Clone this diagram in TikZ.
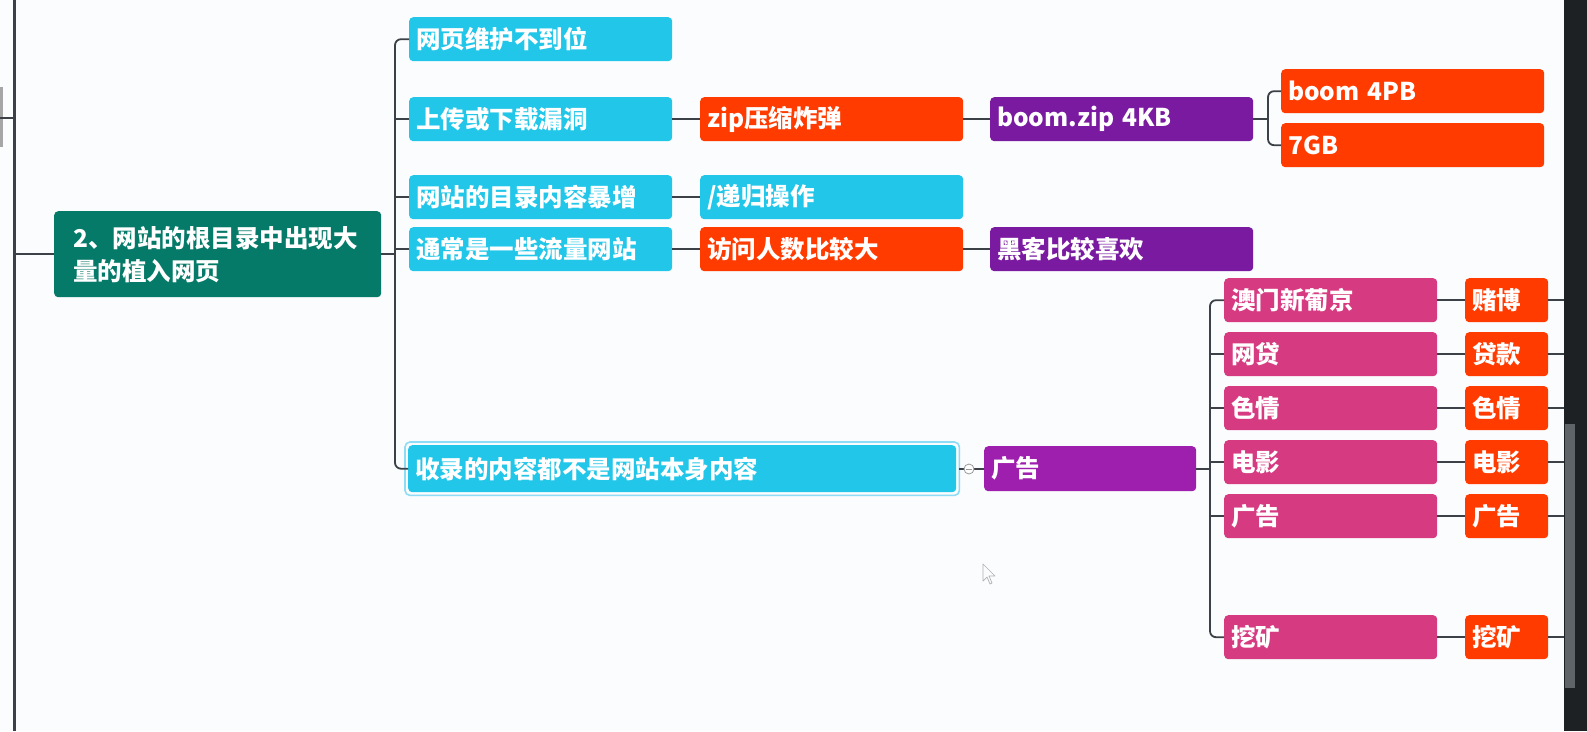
\documentclass[tikz,border=0pt]{standalone}
\usepackage{fontspec}
\newfontfamily\cjk{Noto Sans CJK SC}
\definecolor{cRoot}{HTML}{067A69}
\definecolor{cCyan}{HTML}{21C6E8}
\definecolor{cRed}{HTML}{FF3B00}
\definecolor{cPurp}{HTML}{791AA0}
\definecolor{cAd}{HTML}{9E1FAE}
\definecolor{cPink}{HTML}{D63B82}
\definecolor{cLine}{HTML}{3C4148}
\definecolor{cSel}{HTML}{8EDCF5}
\definecolor{cBg}{HTML}{FAFCFD}
\definecolor{cDark}{HTML}{1E2124}
\definecolor{cThumb}{HTML}{5F6468}
\newcommand{\boxfont}{\cjk\bfseries\fontsize{24.5}{33}\selectfont}
\tikzset{
  box/.style={anchor=north west, rounded corners=4pt, text=white, font=\boxfont,
    align=left, inner xsep=7pt, inner ysep=0pt},
  wide/.style={minimum width=263, text width=249, minimum height=44},
  pinkbox/.style={box, fill=cPink, minimum width=213, text width=199, minimum height=44},
  redbox/.style={box, fill=cRed, minimum width=83, text width=69, minimum height=44},
  conn/.style={draw=cLine, line width=1.8pt},
  bracket/.style={conn, rounded corners=6pt},
}
\begin{document}
\begin{tikzpicture}[x=1pt,y=-1pt]
\useasboundingbox (0,0) rectangle (1587,731);
\fill[cBg] (0,0) rectangle (1587,731);

% left edge remnants
\coordinate (lft) at (14,0);
\coordinate (lfb) at (14,731);
\coordinate (stub) at (0,118);
\fill[gray!70] (0,87) rectangle (2.5,147);
\draw[draw=cLine, line width=3pt] (lft) -- (lfb);
\draw[conn] (stub) -- (stub -| lft);

% right dark bar
\fill[cDark] (1564,0) rectangle (1587,731);
\fill[cThumb] (1565,424) rectangle (1575,688);
\coordinate (edge) at (1564,0);

% root
\node[box, fill=cRoot, minimum width=327, text width=289, minimum height=86, inner xsep=19pt] (root) at (54,211)
  {2、网站的根目录中出现大\\量的植入网页};

% level 1
\node[box, wide, fill=cCyan] (n1) at (409,17) {网页维护不到位};
\node[box, wide, fill=cCyan] (n2) at (409,97) {上传或下载漏洞};
\node[box, wide, fill=cCyan] (n3) at (409,175) {网站的目录内容暴增};
\node[box, wide, fill=cCyan] (n4) at (409,227) {通常是一些流量网站};
\node[box, fill=cCyan, minimum width=548, text width=534, minimum height=47] (n5) at (408,445) {收录的内容都不是网站本身内容};
\draw[cSel, line width=1.6pt, rounded corners=5pt] ([shift={(-3,-3)}]n5.north west) rectangle ([shift={(3,3)}]n5.south east);

% level 2
\node[box, wide, fill=cRed] (zip) at (700,97) {zip压缩炸弹};
\node[box, wide, fill=cCyan] (rec) at (700,175) {/递归操作};
\node[box, wide, fill=cRed] (vis) at (700,227) {访问人数比较大};
\node[box, fill=cAd, minimum width=212, text width=198, minimum height=45] (ad) at (984,446) {广告};

% level 3
\node[box, wide, fill=cPurp] (bz) at (990,97) {boom.zip 4KB};
\node[box, wide, fill=cPurp] (hk) at (990,227) {黑客比较喜欢};
\node[box, wide, fill=cRed] (bp) at (1281,69) {boom 4PB};
\node[box, wide, fill=cRed] (g7) at (1281,123) {7GB};

% pink column
\node[pinkbox] (p1) at (1224,278) {澳门新葡京};
\node[pinkbox] (p2) at (1224,332) {网贷};
\node[pinkbox] (p3) at (1224,386) {色情};
\node[pinkbox] (p4) at (1224,440) {电影};
\node[pinkbox] (p5) at (1224,494) {广告};
\node[pinkbox] (p6) at (1224,615) {挖矿};

\node[redbox] (r1) at (1465,278) {赌博};
\node[redbox] (r2) at (1465,332) {贷款};
\node[redbox] (r3) at (1465,386) {色情};
\node[redbox] (r4) at (1465,440) {电影};
\node[redbox] (r5) at (1465,494) {广告};
\node[redbox] (r6) at (1465,615) {挖矿};

% connectors
\coordinate (b1) at (395,0);
\coordinate (b2) at (1268,0);
\coordinate (b3) at (1210,0);
\draw[conn] (root.west -| lft) -- (root.west);
\draw[conn] (root.east) -- (root.east -| b1);
\draw[bracket] (n1.west) -- (n1.west -| b1) -- (n5.west -| b1) -- (n5.west);
\draw[conn] (n2.west -| b1) -- (n2.west);
\draw[conn] (n3.west -| b1) -- (n3.west);
\draw[conn] (n4.west -| b1) -- (n4.west);

\draw[conn] (n2.east) -- (zip.west);
\draw[conn] (zip.east) -- (bz.west);
\draw[conn] (n3.east) -- (rec.west);
\draw[conn] (n4.east) -- (vis.west);
\draw[conn] (vis.east) -- (hk.west);

\draw[conn] (bz.east) -- (bz.east -| b2);
\draw[bracket] (bp.west) -- (bp.west -| b2) -- (g7.west -| b2) -- (g7.west);

\coordinate (fold) at (969,469);
\draw[conn] ([xshift=3pt]n5.east) -- (ad.west);
\node[circle, draw=gray!80, fill=white, line width=0.8pt, minimum size=10pt, inner sep=0pt] (foldc) at (fold) {};
\draw[gray!80, line width=0.8pt] ([xshift=-3pt]foldc.center) -- ([xshift=3pt]foldc.center);

\draw[conn] (ad.east) -- (ad.east -| b3);
\draw[bracket] (p1.west) -- (p1.west -| b3) -- (p6.west -| b3) -- (p6.west);
\foreach \i in {2,3,4,5} { \draw[conn] (p\i.west -| b3) -- (p\i.west); }
\foreach \i in {1,...,6} {
  \draw[conn] (p\i.east) -- (r\i.west);
  \draw[conn] (r\i.east) -- (r\i.east -| edge);
}

% mouse cursor
\draw[gray!60, line width=0.7pt, line join=round]
  (983,564) -- (983,581) -- (987,577) -- (990,584) -- (992,583) -- (989,576) -- (995,576) -- cycle;
\end{tikzpicture}
\end{document}
